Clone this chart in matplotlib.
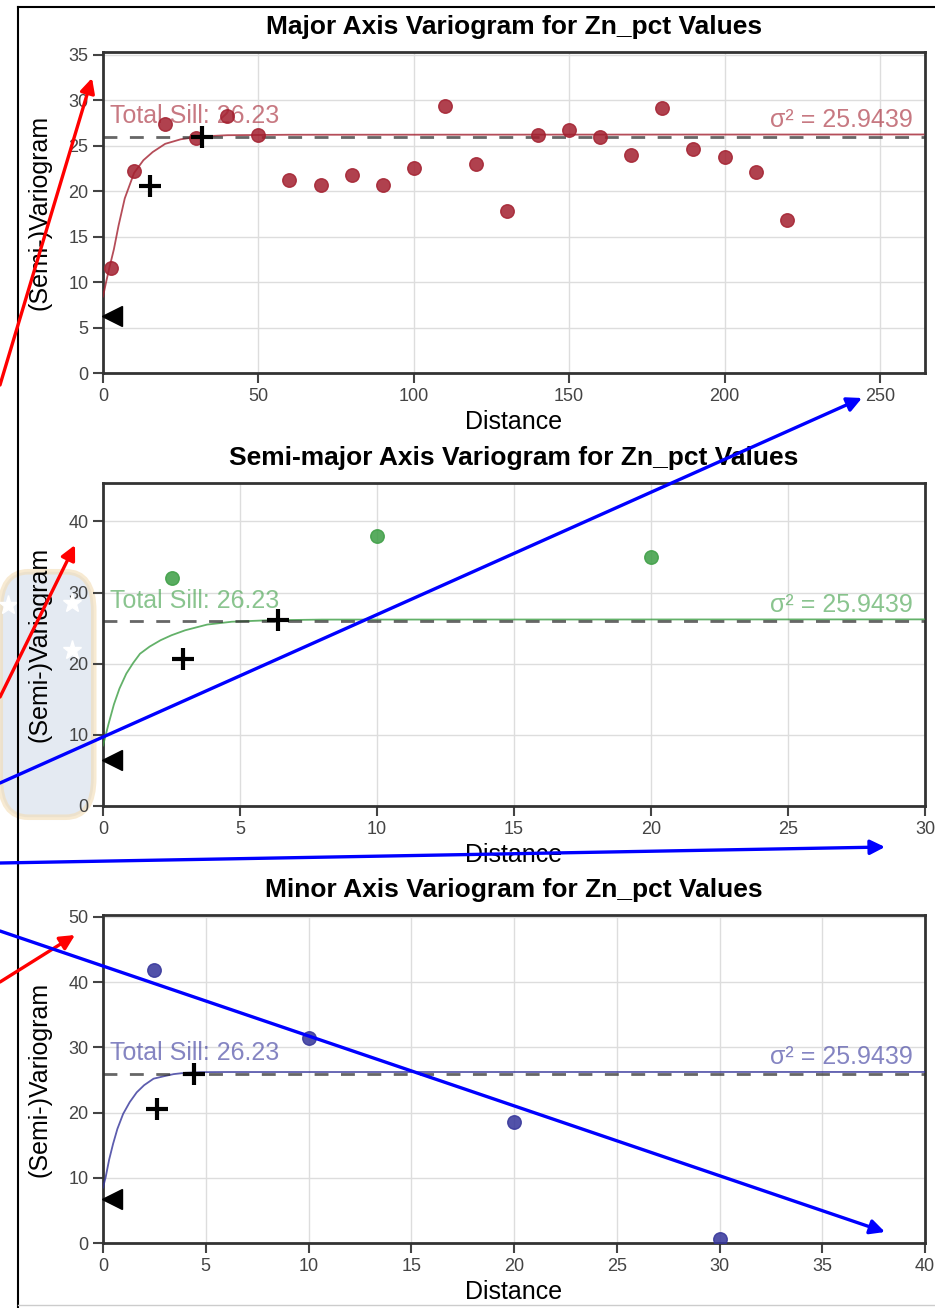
import matplotlib
matplotlib.use("Agg")
import matplotlib.pyplot as plt
from matplotlib.patches import FancyArrowPatch, FancyBboxPatch
from matplotlib.lines import Line2D
from matplotlib.transforms import blended_transform_factory

plt.rcParams["font.family"] = ["Liberation Sans", "DejaVu Sans"]

W, H = 935, 1308

# ---- data ----
titles = ["Major Axis Variogram for Zn_pct Values",
          "Semi-major Axis Variogram for Zn_pct Values",
          "Minor Axis Variogram for Zn_pct Values"]
colors = ["#a3202f", "#3c9e44", "#34349a"]
total_sill = 26.23
sigma2 = 25.9439

major_lag = [2.5, 10, 20, 30, 40, 50, 60, 70, 80, 90, 100, 110, 120, 130,
             140, 150, 160, 170, 180, 190, 200, 210, 220]
major_gamma = [11.6, 22.2, 27.4, 25.8, 28.3, 26.2, 21.2, 20.7, 21.8, 20.7,
               22.5, 29.4, 23.0, 17.8, 26.2, 26.7, 26.0, 24.0, 29.1, 24.6,
               23.8, 22.1, 16.8]
semi_lag = [2.5, 10, 20]
semi_gamma = [32.1, 37.9, 35.0]
minor_lag = [2.5, 10, 20, 30]
minor_gamma = [41.9, 31.5, 18.6, 0.6]

# fitted model curves
major_fit_x = [0, 1, 2, 3.5, 5, 7, 10, 13, 16, 20, 25, 31, 40, 60, 264]
major_fit_y = [8.4, 10.0, 11.5, 13.6, 16.2, 19.2, 22.0, 23.4, 24.3, 25.2,
               25.7, 26.0, 26.15, 26.2, 26.23]
semi_fit_x = [0, 0.2, 0.4, 0.6, 0.85, 1.1, 1.35, 1.7, 2.1, 2.5, 3.0, 3.8,
              4.7, 6.0, 8.0, 30]
semi_fit_y = [8.5, 11.5, 14.3, 16.5, 18.6, 20.1, 21.4, 22.4, 23.3, 24.0,
              24.7, 25.5, 25.9, 26.1, 26.2, 26.23]
minor_fit_x = [0, 0.13, 0.3, 0.49, 0.7, 0.98, 1.3, 1.64, 2.0, 2.46, 3.0,
               3.44, 4.0, 4.75, 6.0, 40]
minor_fit_y = [8.5, 10.1, 12.8, 15.2, 17.5, 19.8, 21.6, 23.1, 24.2, 25.2,
               25.6, 25.9, 26.1, 26.2, 26.22, 26.23]

plus_x = [[15.1, 31.7], [2.92, 6.39], [2.62, 4.43]]
plus_y = [[20.6, 26.0], [20.7, 26.1], [20.6, 25.9]]
nugget_x = [3.0, 0.33, 0.45]
nugget_y = [6.3, 6.45, 6.8]

lags = [major_lag, semi_lag, minor_lag]
gammas = [major_gamma, semi_gamma, minor_gamma]
fit_x = [major_fit_x, semi_fit_x, minor_fit_x]
fit_y = [major_fit_y, semi_fit_y, minor_fit_y]
xlims = [264.5, 30, 40]
ylims = [35.3, 45.4, 50.3]
xstep = [50, 5, 5]
ystep = [5, 10, 10]

fig = plt.figure(figsize=(W / 100, H / 100), dpi=100)


def px(x, y):
    return (x / W, 1 - y / H)


# faint watermark shield behind the middle panel label
shield = FancyBboxPatch(px(4, 812), 86 / W, 235 / H,
                        boxstyle="round,pad=0.004,rounding_size=0.03",
                        transform=fig.transFigure, facecolor="#d3dcea",
                        edgecolor="#f3dcb4", lw=4, alpha=0.6, zorder=0)
fig.add_artist(shield)
for sx, sy in [(8, 605), (72, 603), (72, 650)]:
    fig.add_artist(Line2D([sx / W], [1 - sy / H], marker="*", ms=14,
                          color="white", transform=fig.transFigure, zorder=0.5))

# outer frame
fig.add_artist(Line2D([18 / W, 18 / W], [1 - 7 / H, 0], color="black", lw=1.5,
                      transform=fig.transFigure))
fig.add_artist(Line2D([18 / W, 1], [1 - 7 / H, 1 - 7 / H], color="black", lw=1.5,
                      transform=fig.transFigure))
fig.add_artist(Line2D([18 / W, 1], [1 - 1305 / H, 1 - 1305 / H], color="#cccccc",
                      lw=1.0, transform=fig.transFigure))

boxes = [(52, 373), (483, 806), (915, 1243)]
for i in range(3):
    top, bot = boxes[i]
    ax = fig.add_axes([103 / W, 1 - bot / H, 822 / W, (bot - top) / H])
    c = colors[i]
    ax.set_xlim(0, xlims[i])
    ax.set_ylim(0, ylims[i])
    ax.set_xticks(range(0, int(xlims[i]) + 1, xstep[i]))
    ax.set_yticks(range(0, int(ylims[i]) + 1, ystep[i]))
    ax.grid(True, color="#dddddd", lw=1.0)
    ax.set_axisbelow(True)
    for s in ax.spines.values():
        s.set_color("#333333")
        s.set_linewidth(2)
    ax.tick_params(direction="out", length=7, width=1.5, color="#444444",
                   labelsize=13, labelcolor="#444444")

    ax.plot(fit_x[i], fit_y[i], color=c, lw=1.3, alpha=0.8, zorder=3)
    ax.axhline(sigma2, color="#333333", lw=2, ls=(0, (5, 4.5)), alpha=0.75,
               zorder=4)
    ax.scatter(lags[i], gammas[i], s=95, color=c, alpha=0.85,
               edgecolors=c, linewidths=1, zorder=5)
    ax.plot(plus_x[i], plus_y[i], ls="none", marker="+", ms=16, mew=3,
            color="black", zorder=6)
    ax.plot([nugget_x[i]], [nugget_y[i]], ls="none", marker="<", ms=15,
            color="black", zorder=6, clip_on=False)

    tr = blended_transform_factory(ax.transAxes, ax.transData)
    ax.text(0.009, total_sill + 0.02 * ylims[i], f"Total Sill: {total_sill}",
            transform=tr, color=c, alpha=0.6, fontsize=18, va="bottom",
            ha="left", zorder=2)
    ax.text(0.985, sigma2 + 0.015 * ylims[i], f"σ² = {sigma2}",
            transform=tr, color=c, alpha=0.6, fontsize=18, va="bottom",
            ha="right", zorder=2)

    ax.set_title(titles[i], fontsize=19, fontweight="bold", pad=13)
    ax.set_xlabel("Distance", fontsize=18, labelpad=4)
    ax.set_ylabel("(Semi-)Variogram", fontsize=18, labelpad=12)

# annotation arrows drawn over the figure
red_arrows = [((0, 385), (92, 78)), ((0, 697), (75, 545)), ((0, 982), (75, 935))]
blue_arrows = [((0, 783), (862, 398)), ((0, 863), (885, 847)),
               ((0, 931), (885, 1232))]
for col, arrows in [("#ff0000", red_arrows), ("#0000ff", blue_arrows)]:
    for (x0, y0), (x1, y1) in arrows:
        fig.add_artist(FancyArrowPatch(px(x0, y0), px(x1, y1),
                                       transform=fig.transFigure,
                                       arrowstyle="-|>", mutation_scale=22,
                                       color=col, lw=2.4, zorder=10,
                                       shrinkA=0, shrinkB=0))

fig.savefig("out.png", dpi=100)
